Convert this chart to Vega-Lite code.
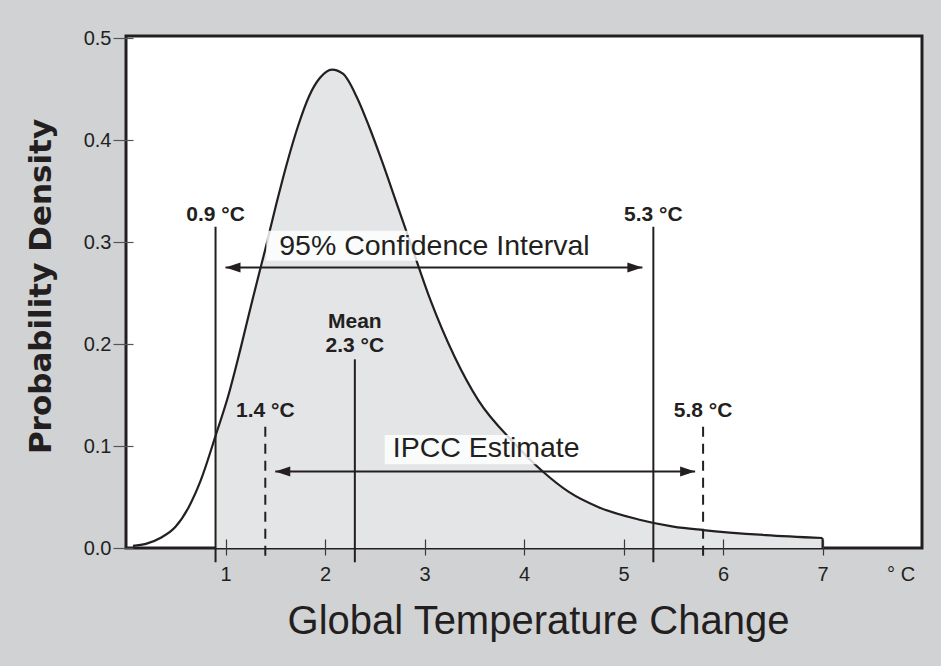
{
  "$schema": "https://vega.github.io/schema/vega-lite/v6.json",
  "width": 796,
  "height": 512,
  "autosize": {"type": "none"},
  "padding": {"left": 126, "top": 36, "right": 19, "bottom": 118},
  "background": "#d1d2d4",
  "config": {
    "view": {"fill": "white", "stroke": "#231f20", "strokeWidth": 3},
    "font": "Liberation Sans"
  },
  "datasets": {
    "curve": [
      {"t": 0.07, "p": 0.002},
      {"t": 0.2, "p": 0.004},
      {"t": 0.35, "p": 0.01},
      {"t": 0.5, "p": 0.021},
      {"t": 0.63, "p": 0.04},
      {"t": 0.75, "p": 0.066},
      {"t": 0.9, "p": 0.11},
      {"t": 1.03, "p": 0.15},
      {"t": 1.15, "p": 0.195},
      {"t": 1.27, "p": 0.243},
      {"t": 1.4, "p": 0.293},
      {"t": 1.51, "p": 0.337},
      {"t": 1.62, "p": 0.378},
      {"t": 1.73, "p": 0.414},
      {"t": 1.84, "p": 0.443},
      {"t": 1.95, "p": 0.461},
      {"t": 2.07, "p": 0.469},
      {"t": 2.18, "p": 0.465},
      {"t": 2.32, "p": 0.442},
      {"t": 2.44, "p": 0.414},
      {"t": 2.57, "p": 0.38},
      {"t": 2.72, "p": 0.338},
      {"t": 2.88, "p": 0.293},
      {"t": 3.06, "p": 0.243},
      {"t": 3.3, "p": 0.188},
      {"t": 3.54, "p": 0.145},
      {"t": 3.9, "p": 0.103},
      {"t": 4.2, "p": 0.074},
      {"t": 4.45, "p": 0.055},
      {"t": 4.75, "p": 0.04},
      {"t": 5.15, "p": 0.028},
      {"t": 5.5, "p": 0.021},
      {"t": 5.8, "p": 0.0176},
      {"t": 6.43, "p": 0.0127},
      {"t": 7.0, "p": 0.0098}
    ],
    "bounds": [
      {"t": 0.9, "top": 0.315},
      {"t": 5.3, "top": 0.315},
      {"t": 2.3, "top": 0.185}
    ],
    "ipcc": [
      {"t": 1.4, "top": 0.119},
      {"t": 5.8, "top": 0.119}
    ],
    "boxes": [
      {"x1": 1.41, "x2": 4.8, "y1": 0.2817, "y2": 0.311},
      {"x1": 2.6, "x2": 4.64, "y1": 0.082, "y2": 0.1108}
    ],
    "captions": [
      {"t": 3.1, "p": 0.287, "text": "95% Confidence Interval"},
      {"t": 3.62, "p": 0.089, "text": "IPCC Estimate"}
    ],
    "values": [
      {"t": 0.9, "p": 0.321, "text": "0.9 °C"},
      {"t": 5.3, "p": 0.321, "text": "5.3 °C"},
      {"t": 2.3, "p": 0.2157, "text": "Mean"},
      {"t": 2.3, "p": 0.192, "text": "2.3 °C"},
      {"t": 1.4, "p": 0.128, "text": "1.4 °C"},
      {"t": 5.8, "p": 0.128, "text": "5.8 °C"}
    ],
    "arrows": [
      {"from": 1.0, "to": 5.19, "level": 0.275},
      {"from": 1.5, "to": 5.72, "level": 0.075}
    ],
    "unit": [
      {"t": 7.79, "p": -0.0325, "text": "° C"}
    ]
  },
  "layer": [
    {
      "data": {"name": "curve"},
      "transform": [{"filter": "datum.t >= 0.9"}],
      "mark": {"type": "area", "interpolate": "monotone", "fill": "#e4e5e7"},
      "encoding": {
        "x": {
          "field": "t", "type": "quantitative",
          "scale": {"domain": [0, 8], "nice": false, "zero": false},
          "axis": {
            "values": [1, 2, 3, 4, 5, 6, 7], "format": "d",
            "domain": false, "grid": false, "offset": -9, "zindex": 1,
            "tickSize": 16, "tickColor": "#3a3a3a", "tickWidth": 1.2,
            "labelFontSize": 20, "labelColor": "#231f20", "labelPadding": 9, "labelFlush": false,
            "title": "Global Temperature Change",
            "titleFontSize": 40, "titleFontWeight": "normal", "titleColor": "#231f20",
            "titleX": 412, "titleY": 94, "titleBaseline": "alphabetic"
          }
        },
        "y": {
          "field": "p", "type": "quantitative",
          "scale": {"domain": [0, 0.502], "nice": false},
          "axis": {
            "values": [0, 0.1, 0.2, 0.3, 0.4, 0.5], "format": ".1f",
            "domain": false, "grid": false, "offset": -7, "zindex": 1,
            "tickSize": 20, "tickColor": "#555555", "tickWidth": 1.2,
            "labelFontSize": 20, "labelColor": "#231f20", "labelPadding": 2, "labelFlush": false,
            "title": "Probability Density",
            "titleFont": "DejaVu Sans", "titleFontWeight": "bold", "titleFontSize": 31,
            "titleColor": "#231f20", "titleAngle": 270,
            "titleX": -83, "titleY": 250, "titleBaseline": "alphabetic"
          }
        }
      }
    },
    {
      "data": {"name": "curve"},
      "mark": {"type": "line", "interpolate": "monotone", "stroke": "#231f20", "strokeWidth": 2.2},
      "encoding": {
        "x": {"field": "t", "type": "quantitative"},
        "y": {"field": "p", "type": "quantitative"}
      }
    },
    {
      "data": {"name": "curve"},
      "transform": [{"filter": "datum.t == 7"}],
      "mark": {"type": "rule", "stroke": "#231f20", "strokeWidth": 2},
      "encoding": {
        "x": {"field": "t", "type": "quantitative"},
        "y": {"field": "p", "type": "quantitative"},
        "y2": {"datum": 0}
      }
    },
    {
      "data": {"name": "bounds"},
      "mark": {"type": "rule", "stroke": "#231f20", "strokeWidth": 2},
      "encoding": {
        "x": {"field": "t", "type": "quantitative"},
        "y": {"field": "top", "type": "quantitative"},
        "y2": {"datum": -0.014}
      }
    },
    {
      "data": {"name": "ipcc"},
      "mark": {"type": "rule", "stroke": "#231f20", "strokeWidth": 2, "strokeDash": [10, 7]},
      "encoding": {
        "x": {"field": "t", "type": "quantitative"},
        "y": {"field": "top", "type": "quantitative"},
        "y2": {"datum": -0.014}
      }
    },
    {
      "data": {"name": "boxes"},
      "mark": {"type": "rect", "fill": "white", "opacity": 0.82},
      "encoding": {
        "x": {"field": "x1", "type": "quantitative"},
        "x2": {"field": "x2"},
        "y": {"field": "y1", "type": "quantitative"},
        "y2": {"field": "y2"}
      }
    },
    {
      "data": {"name": "captions"},
      "mark": {"type": "text", "fontSize": 28.5, "color": "#231f20", "align": "center", "baseline": "alphabetic"},
      "encoding": {
        "x": {"field": "t", "type": "quantitative"},
        "y": {"field": "p", "type": "quantitative"},
        "text": {"field": "text"}
      }
    },
    {
      "data": {"name": "values"},
      "mark": {"type": "text", "fontSize": 21, "fontWeight": "bold", "color": "#231f20", "align": "center", "baseline": "alphabetic"},
      "encoding": {
        "x": {"field": "t", "type": "quantitative"},
        "y": {"field": "p", "type": "quantitative"},
        "text": {"field": "text"}
      }
    },
    {
      "data": {"name": "arrows"},
      "mark": {"type": "rule", "stroke": "#231f20", "strokeWidth": 2},
      "encoding": {
        "x": {"field": "from", "type": "quantitative"},
        "x2": {"field": "to"},
        "y": {"field": "level", "type": "quantitative"}
      }
    },
    {
      "data": {"name": "arrows"},
      "mark": {"type": "point", "shape": "M0,0L2,-0.67L2,0.67Z", "filled": true, "size": 225, "color": "#231f20", "opacity": 1},
      "encoding": {
        "x": {"field": "from", "type": "quantitative"},
        "y": {"field": "level", "type": "quantitative"}
      }
    },
    {
      "data": {"name": "arrows"},
      "mark": {"type": "point", "shape": "M0,0L-2,-0.67L-2,0.67Z", "filled": true, "size": 225, "color": "#231f20", "opacity": 1},
      "encoding": {
        "x": {"field": "to", "type": "quantitative"},
        "y": {"field": "level", "type": "quantitative"}
      }
    },
    {
      "data": {"name": "unit"},
      "mark": {"type": "text", "fontSize": 20, "color": "#231f20", "align": "center", "baseline": "alphabetic"},
      "encoding": {
        "x": {"field": "t", "type": "quantitative"},
        "y": {"field": "p", "type": "quantitative"},
        "text": {"field": "text"}
      }
    }
  ]
}
